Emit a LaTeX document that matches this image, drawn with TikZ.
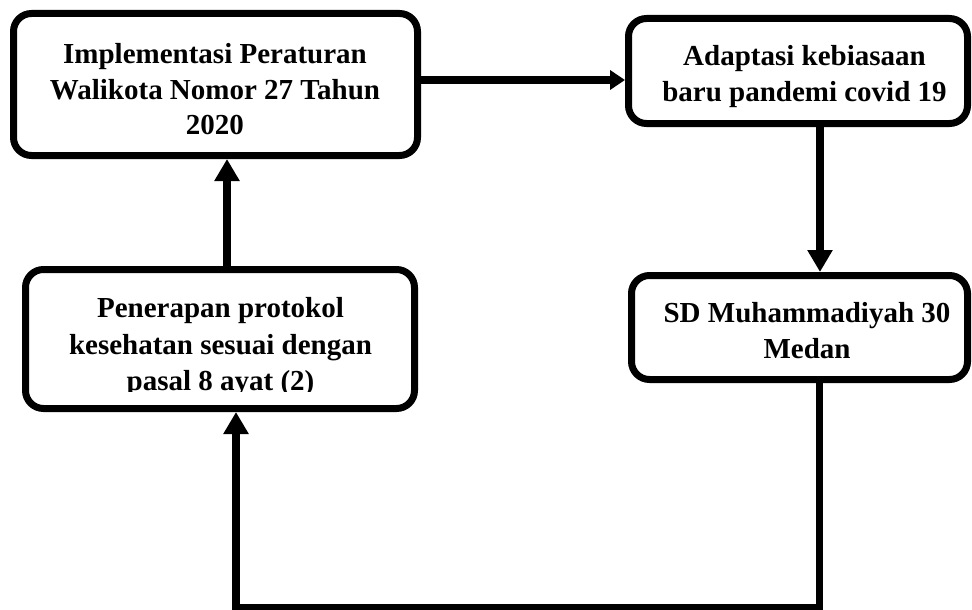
\documentclass[tikz,border=0pt]{standalone}
\usepackage{fontspec}
\setmainfont{Liberation Serif}
\usetikzlibrary{arrows.meta}
\begin{document}
\begin{tikzpicture}[x=1pt,y=-1pt,
  boxnode/.style={draw=black, line width=7pt, rounded corners=18pt, rectangle, inner sep=0pt},
  txt/.style={anchor=north, inner sep=0pt, align=center, font={\fontsize{29pt}{35.5pt}\selectfont\bfseries}},
  conn/.style={line width=7.5pt, line join=miter},
  varr/.style={conn, -{Triangle[length=22pt,width=24pt]}},
  harr/.style={conn, -{Triangle[length=15pt,width=19pt]}}]
\useasboundingbox (0,0) rectangle (972,610);
% boxes
\node[boxnode, minimum width=404pt, minimum height=142pt] (b1) at (215.5,84.5) {};
\node[boxnode, minimum width=339pt, minimum height=105pt] (b2) at (798,71) {};
\node[boxnode, minimum width=336pt, minimum height=104pt] (b3) at (799.5,327.5) {};
\node[boxnode, minimum width=389pt, minimum height=139pt] (b4) at (220,339) {};
% texts
\node[txt] (t1) at (215,43.4) {Implementasi Peraturan\\Walikota Nomor 27 Tahun\\2020};
\node[txt] (t2) at (804.5,45.4) {Adaptasi kebiasaan\\baru pandemi covid 19};
\node[txt] (t3) at (807,302.4) {SD Muhammadiyah 30\\Medan};
\begin{scope}
  \clip (22,266) rectangle (418,391);
  \node[txt, font={\fontsize{29pt}{36.5pt}\selectfont\bfseries}] (t4) at (220.5,297.4) {Penerapan protokol\\kesehatan sesuai dengan\\pasal 8 ayat (2)};
\end{scope}
% connectors
\draw[harr] ([yshift=4.5pt]b1.east) -- ([yshift=4.5pt]b1.east -| b2.west);
\draw[varr] ([xshift=22pt]b2.south) -- ([xshift=22pt]b2.south |- b3.north);
\coordinate (c1) at (819.5,608);
\coordinate (c2) at (236,608);
\draw[varr] ([xshift=20pt]b3.south) -- (c1) -- (c2) -- ([xshift=16pt]b4.south);
\draw[varr] ([xshift=7pt]b4.north) -- ([xshift=7pt]b4.north |- b1.south);
\end{tikzpicture}
\end{document}
